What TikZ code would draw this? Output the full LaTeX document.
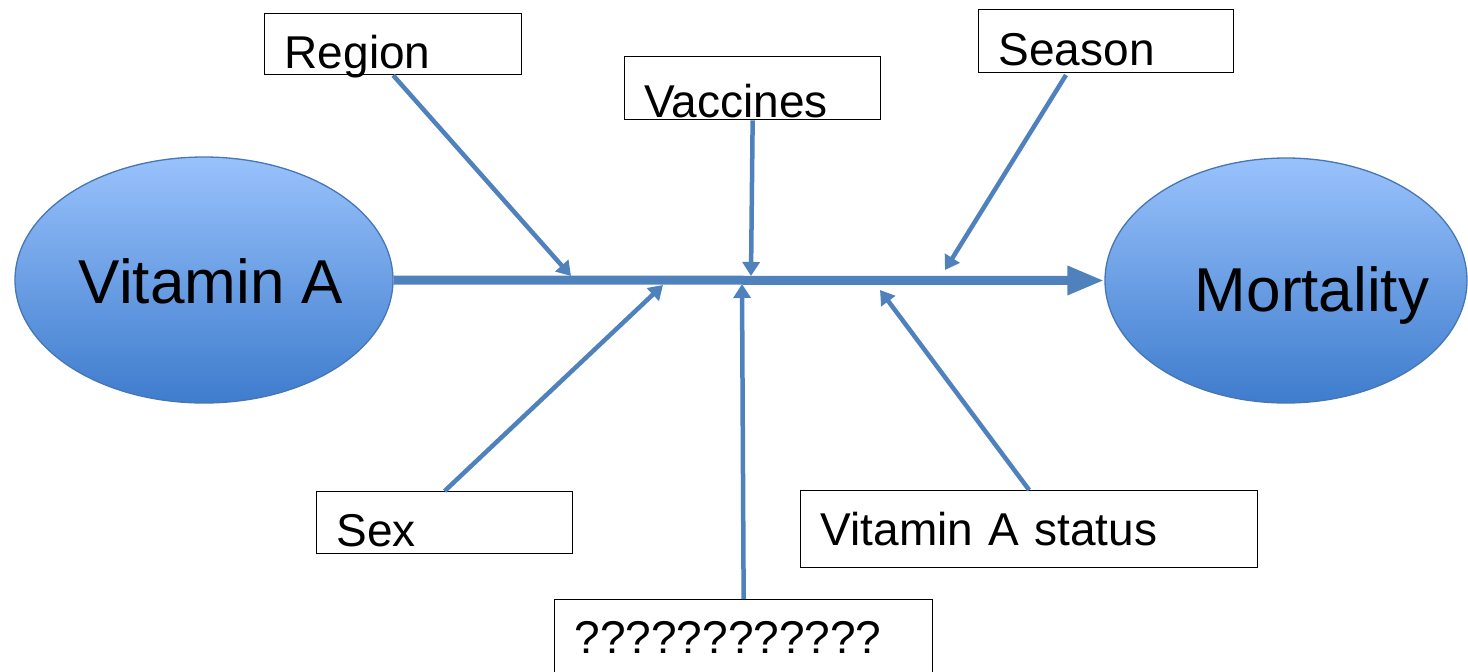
\documentclass[tikz,border=0pt]{standalone}
\usepackage{fontspec}
\setmainfont{Liberation Sans}
\usetikzlibrary{shapes.geometric,arrows.meta}
\definecolor{bonecol}{RGB}{79,129,189}
\definecolor{balltop}{RGB}{153,194,252}
\definecolor{ballbot}{RGB}{62,124,205}
\definecolor{balledge}{RGB}{70,118,180}
\tikzset{
  ball/.style={ellipse, draw=balledge, line width=1.3pt, top color=balltop, bottom color=ballbot,
    inner sep=0pt, font=\fontsize{62}{66}\selectfont},
  factor/.style n args={3}{draw=black, line width=1.3pt, anchor=north west, align=left,
    inner xsep=20pt, inner ysep=0pt, text width=#1-40pt, text height=#2, text depth=#3,
    font=\fontsize{46}{50}\selectfont},
  bone/.style={bonecol, line width=4.5pt, -{Triangle[length=14pt,width=17pt]}}
}
\begin{document}
\begin{tikzpicture}[x=1pt, y=-1pt]
  \useasboundingbox (0,0) rectangle (1468,672);
  % effect and cause
  \node[ball, minimum width=378pt, minimum height=246pt, text height=46pt, text depth=0pt] (vita) at (204,280) {\makebox[0pt]{\hspace*{14pt}Vitamin A}};
  \node[ball, minimum width=362pt, minimum height=245pt, text height=62pt, text depth=0pt] (mort) at (1286,280.5) {\makebox[0pt]{\hspace*{52pt}Mortality}};
  \draw[bonecol, line width=9pt, -{Triangle[length=37pt,width=27pt]}] (vita.east) -- (mort.west);
  % factor boxes
  \node[factor={257pt}{55pt}{6pt}] (region) at (264,13) {Region};
  \node[factor={256pt}{61pt}{2pt}] (vacc) at (624,56) {Vaccines};
  \node[factor={255pt}{56pt}{7pt}] (season) at (978,9) {Season};
  \node[factor={256pt}{55pt}{7pt}] (sex) at (316,491) {Sex};
  \node[factor={457pt}{55pt}{22pt}] (status) at (800,490) {Vitamin A status};
  \node[factor={378pt}{54pt}{50pt}] (unknown) at (554,599) {????????????};
  % where the bones meet the spine
  \coordinate (pRegion) at (571,276); \coordinate (pVacc) at (751,276);
  \coordinate (pSeason) at (945,270); \coordinate (sTail) at (1066,75);
  \coordinate (pSex) at (663,285); \coordinate (pStatus) at (880,290);
  \coordinate (pUnknown) at (742,284);
  \draw[bone] (region.south) -- (pRegion);
  \draw[bone] (vacc.south) -- (pVacc);
  \draw[bone] (sTail) -- (pSeason);
  \draw[bone] (sex.north) -- (pSex);
  \draw[bone] (status.north) -- (pStatus);
  \draw[bone] (unknown.north) -- (pUnknown);
\end{tikzpicture}
\end{document}
